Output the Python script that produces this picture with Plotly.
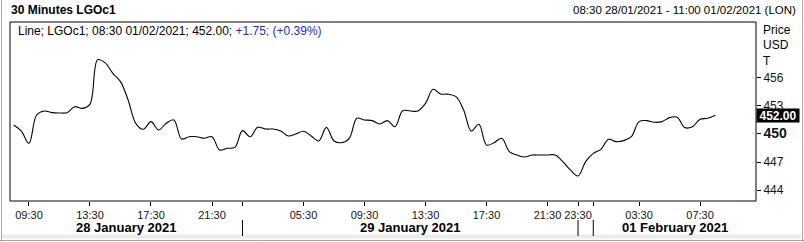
import pandas as pd
import plotly.graph_objects as go

# ---- data -------------------------------------------------------------
sessions = [
    ("2021-01-28 08:30", "2021-01-28 23:00"),
    ("2021-01-29 01:30", "2021-01-29 23:00"),
    ("2021-01-31 23:30", "2021-02-01 08:30"),
]
times = []
for a, b in sessions:
    times += [t.strftime("%d/%m %H:%M") for t in pd.date_range(a, b, freq="30min")]

prices = [
    450.96, 450.30, 449.00, 452.03, 452.46, 452.28, 452.25, 452.28, 452.92, 452.74,
    453.20, 457.95, 457.60, 456.49, 455.60, 453.64, 451.14, 450.50, 451.32, 450.43,
    451.14, 451.50, 449.47, 449.71, 449.71, 449.54, 449.71, 448.29, 448.47, 448.57,
    450.36, 449.71, 450.71, 450.53, 450.53, 450.32, 449.79, 450.00, 450.29, 449.79,
    449.25, 450.71, 449.25, 449.07, 449.54, 451.68, 451.50, 451.43, 451.07, 451.43,
    450.78, 452.49, 452.46, 452.46, 453.28, 454.78, 454.28, 454.25, 453.99, 452.57,
    450.32, 451.04, 448.82, 449.07, 449.54, 448.11, 447.75, 447.54, 447.75, 447.75,
    447.75, 447.75, 447.04, 446.15, 445.51, 447.04, 447.93, 448.36, 449.43, 449.18,
    449.29, 449.71, 451.32, 451.43, 451.25, 451.32, 451.75, 451.79, 450.68, 450.78,
    451.57, 451.68, 452.00,
]

x_tick_cats = ["28/01 09:30", "28/01 13:30", "28/01 17:30", "28/01 21:30",
               "29/01 01:30", "29/01 05:30", "29/01 09:30", "29/01 13:30",
               "29/01 17:30", "29/01 21:30", "31/01 23:30", "01/02 00:30",
               "01/02 03:30", "01/02 07:30"]
x_tick_labels = ["09:30", "13:30", "17:30", "21:30", "", "05:30", "09:30", "13:30",
                 "17:30", "21:30", "23:30", "", "03:30", "07:30"]
day_breaks = ["29/01 01:30", "31/01 23:30", "01/02 00:30"]
day_labels = ["28 January 2021", "29 January 2021", "", "01 February 2021"]

y_ticks = [444, 447, 450, 453, 456]
y_tick_labels = ["444", "447", "<b><span style='font-size:14px'>450</span></b>", "453", "456"]

last_price = 452.00
legend_text = "Line; LGOc1; 08:30 01/02/2021; 452.00; "
legend_change = "+1.75; (+0.39%)"
title = "30 Minutes LGOc1"
range_text = "08:30 28/01/2021 - 11:00 01/02/2021 (LON)"
unit_labels = ["Price", "USD", "T"]

# ---- figure -----------------------------------------------------------
W, H = 804, 242
L, R, T, B = 10, 48, 22, 41
x_range = [-0.49, 97.34]
y_range = [442.83, 461.98]
FONT = "Liberation Sans, Arial, sans-serif"

fig = go.Figure()
fig.add_trace(go.Scatter(
    x=times, y=prices, mode="lines",
    line=dict(color="black", width=1.1, shape="spline", smoothing=1),
    hoverinfo="skip", showlegend=False,
))

plot_h = H - T - B
plot_w = W - L - R

def py(px):  # pixel offset below plot bottom -> paper y
    return -px / plot_h

def px_x(px):  # absolute pixel x -> paper x
    return (px - L) / plot_w

def px_y(px):  # absolute pixel y -> paper y
    return (H - B - px) / plot_h

shapes = []
# plot frame
shapes.append(dict(type="rect", xref="paper", yref="paper", x0=0, x1=1, y0=0, y1=1,
                   line=dict(color="black", width=1), layer="above"))
# gray part of bottom axis
shapes.append(dict(type="line", xref="paper", yref="paper", x0=px_x(30), x1=px_x(735),
                   y0=0, y1=0, line=dict(color="#8c8c8c", width=1), layer="above"))
# day separators
for c in day_breaks:
    shapes.append(dict(type="line", xref="x", yref="paper", x0=c, x1=c,
                       y0=py(19), y1=py(35), line=dict(color="black", width=1)))
# outer window frame
shapes.append(dict(type="rect", xref="paper", yref="paper", x0=px_x(2), x1=px_x(801),
                   y0=px_y(238.5), y1=px_y(234.5), fillcolor="#ececec",
                   line=dict(width=0), layer="below"))
shapes.append(dict(type="line", xref="paper", yref="paper", x0=px_x(0), x1=px_x(804),
                   y0=px_y(240.5), y1=px_y(240.5), line=dict(color="#a8a8a8", width=1)))
shapes.append(dict(type="line", xref="paper", yref="paper", x0=px_x(1.5), x1=px_x(1.5),
                   y0=px_y(0), y1=px_y(242), line=dict(color="#a8a8a8", width=1)))
shapes.append(dict(type="line", xref="paper", yref="paper", x0=px_x(802.5), x1=px_x(802.5),
                   y0=px_y(0), y1=px_y(242), line=dict(color="#a8a8a8", width=1)))

annotations = []
# day labels centred between boundaries
idx = {c: i for i, c in enumerate(times)}
bounds = [x_range[0]] + [idx[c] for c in day_breaks] + [x_range[1]]
for k, lab in enumerate(day_labels):
    if not lab:
        continue
    xc = (bounds[k] + bounds[k + 1]) / 2
    annotations.append(dict(x=xc, xref="x", y=py(26.5), yref="paper", text=f"<b>{lab}</b>",
                            showarrow=False, xanchor="center", yanchor="middle",
                            font=dict(family=FONT, size=13, color="black")))
# titles
annotations.append(dict(x=px_x(9), y=px_y(10), xref="paper", yref="paper",
                        text=f"<b>{title}</b>", showarrow=False, xanchor="left",
                        yanchor="middle", font=dict(family=FONT, size=12, color="black")))
annotations.append(dict(x=px_x(798), y=px_y(10), xref="paper", yref="paper",
                        text=range_text, showarrow=False, xanchor="right",
                        yanchor="middle", font=dict(family=FONT, size=11.5, color="black")))
# legend line
annotations.append(dict(x=px_x(16), y=px_y(31), xref="paper", yref="paper",
                        text=legend_text + f"<span style='color:#2626d9'>{legend_change}</span>",
                        showarrow=False, xanchor="left", yanchor="middle",
                        font=dict(family=FONT, size=12, color="black")))
# unit labels
for k, (lab, yy) in enumerate(zip(unit_labels, [29.5, 45, 61])):
    annotations.append(dict(x=px_x(761), y=px_y(yy), xref="paper", yref="paper",
                            text=lab, showarrow=False, xanchor="left", yanchor="middle",
                            font=dict(family=FONT, size=12, color="black")))
# last price box
annotations.append(dict(x=1.0, xref="paper", y=last_price, yref="y",
                        text=f"<b>{last_price:.2f}</b>", showarrow=False,
                        xanchor="left", yanchor="middle", bgcolor="black",
                        width=42, height=13, borderpad=0, align="center",
                        font=dict(family=FONT, size=12, color="white")))

fig.update_layout(
    width=W, height=H, margin=dict(l=L, r=R, t=T, b=B),
    paper_bgcolor="white", plot_bgcolor="white",
    shapes=shapes, annotations=annotations,
    xaxis=dict(type="category", categoryorder="array", categoryarray=times,
               range=x_range, showgrid=False, zeroline=False, showline=False,
               tickmode="array", tickvals=x_tick_cats, ticktext=x_tick_labels,
               ticks="outside", ticklen=4, tickwidth=1, tickcolor="black",
               tickangle=0,
               tickfont=dict(family=FONT, size=11, color="#141414")),
    yaxis=dict(side="right", range=y_range, showgrid=False, zeroline=False,
               showline=False, tickmode="array", tickvals=y_ticks,
               ticktext=y_tick_labels, ticks="outside", ticklen=4, tickwidth=1,
               tickcolor="black",
               tickfont=dict(family=FONT, size=12, color="#141414")),
)

fig.write_html("out.html")
